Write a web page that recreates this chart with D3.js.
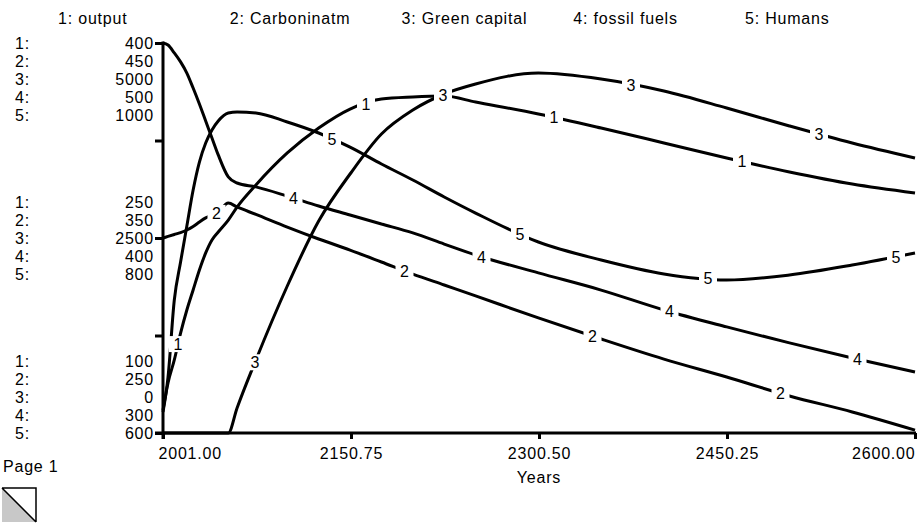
<!DOCTYPE html>
<html><head><meta charset="utf-8">
<script src="https://cdn.jsdelivr.net/npm/d3@7"></script>
<style>
html,body{margin:0;padding:0;background:#fff;}
text{font-family:"Liberation Sans",Arial,Helvetica,sans-serif;font-size:16px;letter-spacing:0.8px;fill:#000;}
</style></head>
<body>
<svg id="c" width="924" height="526"></svg>
<script>
// ---- data ----
const years = [2001,2005,2010,2015,2020,2025,2030,2035,2040,2045,2053,2060,2075,2100,2125,2150,2175,2200,2225,2250,2300,2350,2400,2450,2500,2550,2600];
const output = [117.7,138.5,156.2,176.9,194.6,210.0,225.4,238.5,248.5,254.6,263.8,273.8,290.8,315.4,334.6,349.2,356.9,358.5,359.2,354.6,345.4,334.6,323.1,311.5,300.8,291.5,284.6];
const carboninatm = [350.0,350.8,351.8,352.8,354.1,355.9,358.2,360.3,361.8,363.3,367.9,365.9,362.1,355.6,349.5,343.8,337.7,331.5,325.9,320.3,309.0,298.2,287.9,278.7,269.0,260.8,251.5];
const greenCapital = [0,0,0,0,0,0,0,0,0,0,0,320.5,935.9,1884.6,2717.9,3320.5,3833.3,4141.0,4346.2,4474.4,4615.4,4538.5,4384.6,4166.7,3935.9,3717.9,3525.6];
const fossilFuels = [500,499.0,494.9,490.3,484.6,476.9,468.7,460.0,451.3,442.6,431.3,428.2,426.2,421.5,416.4,411.8,407.2,402.6,396.9,391.3,382.1,373.3,363.1,354.4,346.2,338.5,331.3];
const humans = [621.5,657.4,736.4,775.4,812.3,849.2,877.9,897.4,910.8,920.0,928.2,929.2,928.2,919.0,907.7,893.3,875.9,859.5,842.1,825.6,795.9,777.4,763.1,756.9,762.1,772.3,784.6];
const seriesNames = ["output","Carboninatm","Green capital","fossil fuels","Humans"];
const axisMin = [100,250,0,300,600];
const axisMax = [400,450,5000,500,1000];
const xTickValues = [2001,2150.75,2300.5,2450.25,2600];
const xTickLabels = ["2001.00","2150.75","2300.50","2450.25","2600.00"];
const xTitle = "Years";
const pageLabel = "Page 1";

const seriesValues = [output, carboninatm, greenCapital, fossilFuels, humans];

// ---- layout ----
const X0 = 163, X1 = 915, YT = 43, YB = 433;
const svg = d3.select("#c");
const x = d3.scaleLinear().domain([2001,2600]).range([X0,X1]);
const yScales = seriesValues.map((v,i)=>d3.scaleLinear().domain([axisMin[i],axisMax[i]]).range([YB,YT]));
const yFrac = d3.scaleLinear().domain([0,1]).range([YB,YT]);

// header legend
svg.append("g").selectAll("text").data(seriesNames).join("text")
  .attr("x",(d,i)=>58 + i*171.75).attr("y",24)
  .text((d,i)=>(i+1)+": "+d);

// left scale labels (three groups: max, mid, min)
const groups = [
  {frac:1, vals:axisMax, anchorRow:0},
  {frac:0.5, vals:axisMin.map((m,i)=>(m+axisMax[i])/2), anchorRow:2},
  {frac:0, vals:axisMin, anchorRow:4}
];
const rowH = 18;
const lg = svg.append("g");
groups.forEach(g=>{
  const cy = yFrac(g.frac);
  g.vals.forEach((v,i)=>{
    const yy = cy + (i-g.anchorRow)*rowH + 6;
    lg.append("text").attr("x",15).attr("y",yy).text((i+1)+":");
    lg.append("text").attr("x",154).attr("y",yy).attr("text-anchor","end").text(d3.format("d")(v));
  });
});

// axes
const yAxis = d3.axisLeft(yFrac).tickValues([0,0.25,0.5,0.75,1]).tickSize(8).tickSizeOuter(0).tickFormat("");
const ya = svg.append("g").attr("transform",`translate(${X0},0)`).call(yAxis);
ya.select(".domain").attr("stroke","#000").attr("stroke-width",3).attr("d",`M0,${YT-1.5}V${YB+6}`);
ya.selectAll(".tick line").attr("stroke","#000").attr("stroke-width",3);

const xAxis = d3.axisBottom(x).tickValues(xTickValues).tickSize(6).tickSizeOuter(0)
  .tickFormat((d,i)=>xTickLabels[i]).tickPadding(9);
const xa = svg.append("g").attr("transform",`translate(0,${YB})`).call(xAxis);
xa.select(".domain").attr("stroke","#000").attr("stroke-width",3).attr("d",`M${X0-8},0H${X1+1}`);
xa.selectAll(".tick line").attr("stroke","#000").attr("stroke-width",3);
xa.selectAll(".tick text").attr("font-size",null).attr("font-family",null)
  .style("font-size","16px").style("fill","#000")
  .attr("text-anchor",(d,i)=>i===0?"start":(i===xTickValues.length-1?"end":"middle"))
  .attr("dx",(d,i)=>i===0?-5:0);
xa.attr("font-size",null).attr("font-family",null);

svg.append("text").attr("x",(X0+X1)/2).attr("y",483).attr("text-anchor","middle").text(xTitle);

// lines
const lineGen = i => d3.line().x((d,k)=>x(years[k])).y(d=>yScales[i](d)).curve(d3.curveMonotoneX);
const lines = svg.append("g");
seriesValues.forEach((vals,i)=>{
  lines.append("path").datum(vals).attr("d",lineGen(i))
    .attr("fill","none").attr("stroke","#000").attr("stroke-width",3).attr("stroke-linejoin","round");
});

// curve number labels
const labs = svg.append("g");
seriesValues.forEach((vals,i)=>{
  const interp = d3.scaleLinear().domain(years).range(vals);
  for(let j=0;j<4;j++){
    const px = X0 + 15 + i*38.5 + j*188;
    const yr = x.invert(px);
    const py = yScales[i](interp(yr));
    labs.append("rect").attr("x",px-9).attr("y",py-8).attr("width",18).attr("height",16).attr("fill","#fff");
    labs.append("text").attr("x",px).attr("y",py+6).attr("text-anchor","middle").style("letter-spacing","0px").text(i+1);
  }
});

// page label & icon
svg.append("text").attr("x",3).attr("y",472).text(pageLabel);
const ic = svg.append("g");
ic.append("path").attr("d","M2,488 L36,522 L2,522 Z").attr("fill","#c8c8c8");
ic.append("path").attr("d","M2,488 H36 V522 M2,488 L36,522").attr("fill","none").attr("stroke","#000").attr("stroke-width",1.5);
</script>
</body></html>
